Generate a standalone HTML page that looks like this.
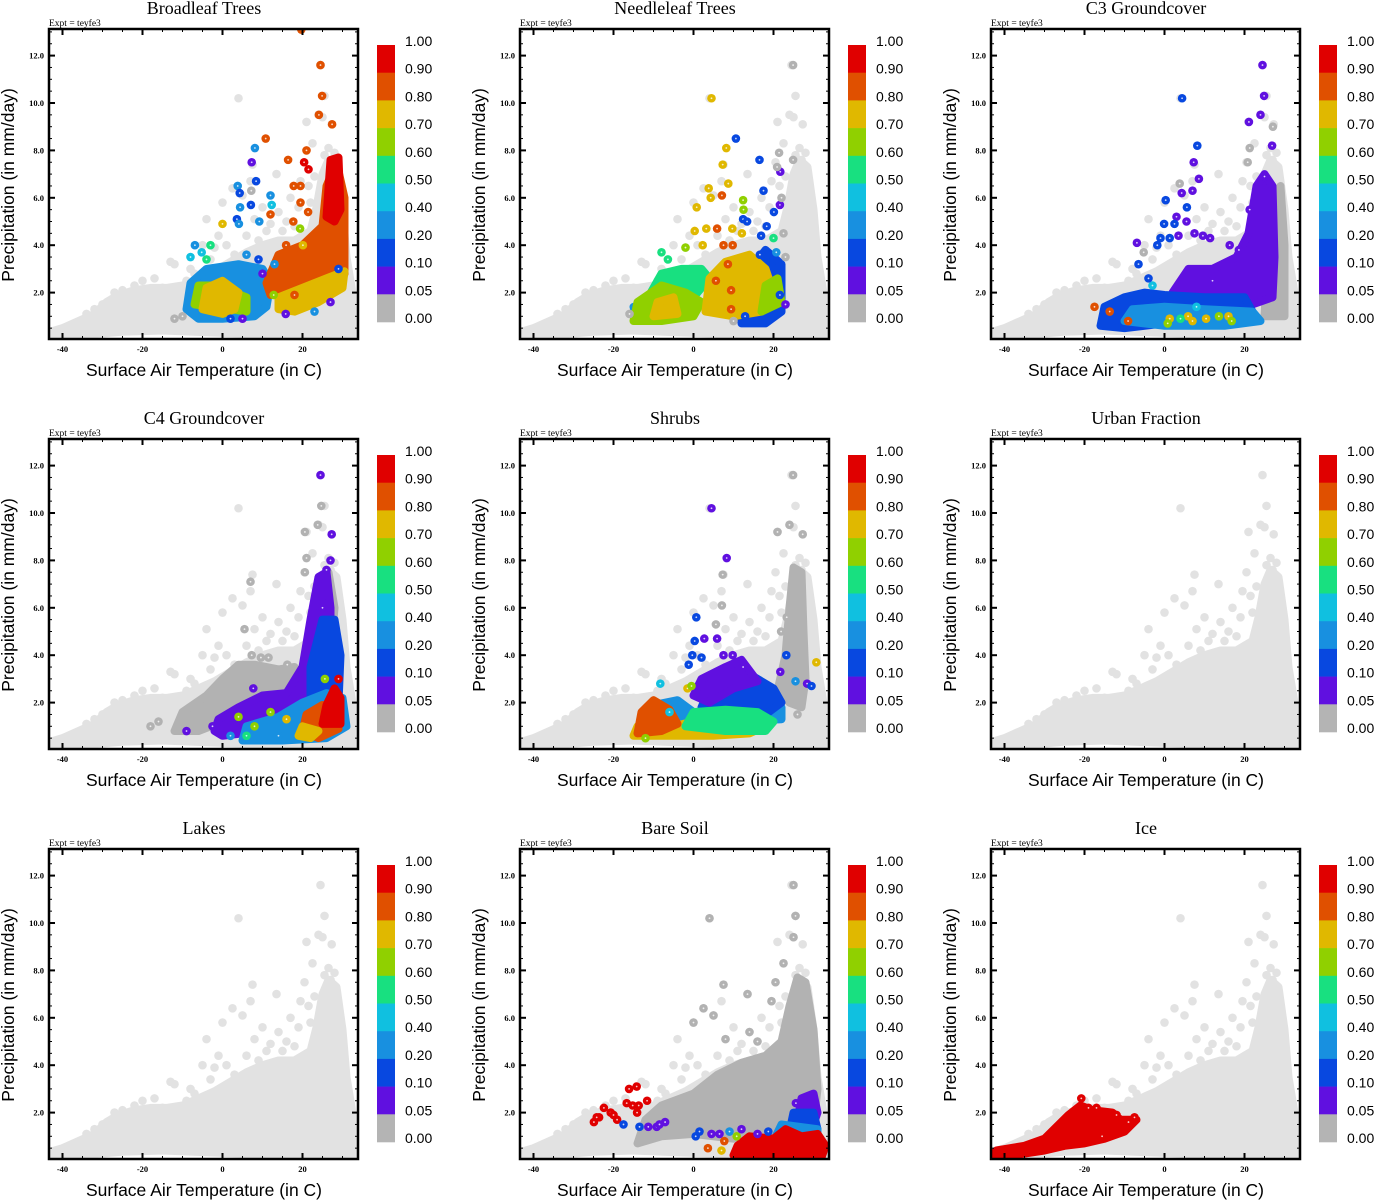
<!DOCTYPE html>
<html><head><meta charset="utf-8"><style>
html,body{margin:0;padding:0;background:#fff;}
#wrap{position:relative;width:1375px;height:1200px;overflow:hidden;}
svg text{font-family:"Liberation Sans",sans-serif;}
.ser{font-family:"Liberation Serif",serif;}
</style></head><body>
<div id="wrap">
<svg id="fig" width="1375" height="1200" viewBox="0 0 1375 1200" xmlns="http://www.w3.org/2000/svg"></svg>
</div>
<script>
// ---------- data ----------
const panelTitles = ["Broadleaf Trees","Needleleaf Trees","C3 Groundcover","C4 Groundcover","Shrubs","Urban Fraction","Lakes","Bare Soil","Ice"];
const xTicks = [-40,-20,0,20];
const xTickLabels = ["-40","-20","0","20"];
const yTicks = [2,4,6,8,10,12];
const yTickLabels = ["2.0","4.0","6.0","8.0","10.0","12.0"];
const cbarLabels = ["1.00","0.90","0.80","0.70","0.60","0.50","0.40","0.20","0.10","0.05","0.00"];
const cbarColors = ["#e00000","#e05000","#e0b800","#90d000","#18e080","#10c0e0","#1890e0","#0848e0","#6010e0","#b4b4b4"];

// shared background cloud (T in C, P in mm/day)
const cloudUpper = [[-44,0.3],[-40,0.5],[-36,0.8],[-32,1.1],[-29,1.6],[-26,1.9],[-22,2.1],[-18,2.2],[-14,2.2],[-10,2.3],[-6,2.6],[-2,2.9],[2,3.3],[6,3.7],[10,4.0],[14,4.2],[18,4.2],[22,4.6],[23.5,5.6],[25,7.0],[26.5,7.6],[28.5,7.3],[30,5.5],[31,3.5],[33,1.5],[34,0.5]];
const cloudLower = [[34,0.1],[20,0.15],[0,0.3],[-15,0.4],[-25,0.35],[-35,0.2],[-44,0.1]];
const cloudPoints = [[4,10.2],[24.5,11.6],[25.5,10.3],[25,9.4],[22.5,8.3],[26.5,8.1],[7.5,7.4],[2.5,6.4],[5,6.1],[20.5,7.5],[13.5,7.0],[25.5,7.8],[27,7.6],[19.5,6.7],[21.5,6.5],[0,5.8],[-4,5.1],[-5,4.0],[-1,4.4],[-2,3.9],[-12,3.2],[-13,3.3],[-9,2.5],[-20,2.5],[8,5.1],[9,4.2],[14,5.4],[16,5.0],[27,5.9],[-30,1.5],[-32,1.3],[-25,2.1],[-15,2.2],[21,9.2],[27.3,9.1],[24,9.5],[11,4.6],[18,4.8],[3,3.6],[-7,2.8],[6,4.4],[10,5.6],[12,4.9],[15,4.6],[19,5.6],[22,5.8],[-3,3.4],[1,4.0],[-8,3.0],[-17,2.6],[-22,2.3],[-27,2.0],[-34,1.1],[7,6.7],[17,6.0],[23,6.9],[28,7.9]];

// Broadleaf Trees
const btRegions = [
 [0.3,[[-9,1.3],[-8,2.4],[-4,3.0],[4,3.2],[10,3.0],[12,2.4],[11,1.4],[8,1.0],[0,0.9],[-6,0.9]]],
 [0.65,[[-7,1.5],[-6,2.3],[-2,2.3],[-3,1.4]]],
 [0.65,[[2,1.3],[3,2.0],[6,1.8],[6,1.2]]],
 [0.75,[[-5,1.3],[-4,2.2],[0,2.5],[4,2.0],[3,1.3],[0,1.1]]],
 [0.85,[[11,2.4],[14,3.6],[20,4.0],[25,4.8],[26,6.5],[28.5,7.5],[30.5,6.0],[30.5,2.8],[26,2.6],[20,2.2],[15,2.0],[12,1.9]]],
 [0.95,[[26,5.2],[27,7.6],[29,7.7],[29.5,5.5],[28,5.0]]],
 [0.75,[[14,1.8],[20,2.2],[26,2.6],[30.5,2.9],[30,2.2],[24,1.6],[18,1.2],[14,1.3]]]
];
const btPoints = [[24.5,11.6,0.85],[24.9,10.3,0.85],[24.1,9.5,0.85],[27.4,9.1,0.85],[10.8,8.5,0.85],[8.1,8.1,0.3],[7.3,7.5,0.07],[16.4,7.6,0.85],[21,8.0,0.85],[20.4,7.5,0.95],[21.5,7.2,0.95],[3.8,6.5,0.3],[4.3,6.2,0.15],[8.4,6.7,0.15],[4.4,5.6,0.3],[7.1,5.7,0.15],[12,6.1,0.3],[12.3,5.7,0.45],[12,5.3,0.85],[3.6,5.1,0.15],[0,4.9,0.75],[4.1,4.9,0.3],[-6.9,4.0,0.3],[-3,4.0,0.55],[-5.2,3.7,0.45],[9.2,5.0,0.3],[17.8,6.5,0.85],[19.5,6.5,0.85],[19.5,5.8,0.85],[21.4,5.4,0.85],[17.7,5.0,0.85],[19.4,4.7,0.65],[20.1,4.0,0.75],[15.9,4.0,0.85],[27,1.6,0.07],[15.8,1.1,0.07],[23,1.2,0.3],[12.8,1.9,0.65],[18,1.9,0.85],[19.7,13.1,0.85],[7.2,6.3,0],[-10,1.0,0],[-12,0.9,0],[-8,3.5,0.45],[-4,3.4,0.55],[6,3.6,0.3],[9,3.4,0.15],[10,2.8,0.07],[5,0.9,0.07],[2,0.9,0.15],[13,3.2,0.3],[29,3.0,0.15]];

// Needleleaf Trees
const ntRegions = [
 [0.15,[[12,0.7],[12,2.5],[18,3.8],[22,3.2],[22,1.2],[18,0.7]]],
 [0.55,[[-12,1.6],[-8,2.8],[-3,3.0],[2,3.0],[4,2.6],[0,1.8],[-8,1.9]]],
 [0.3,[[-14,0.8],[-15,1.4],[-10,1.4],[-6,0.9]]],
 [0.65,[[-15,0.8],[-14,1.6],[-8,2.3],[-2,2.0],[2,1.6],[0,1.0],[-8,0.8]]],
 [0.75,[[-10,1.0],[-9,1.6],[-5,1.8],[-4,1.1]]],
 [0.75,[[3,1.2],[4,2.6],[8,3.3],[14,3.6],[18,3.0],[20,2.0],[17,1.2],[10,1.0]]],
 [0.65,[[17,1.2],[18,2.3],[21,2.6],[22,1.6]]]
];
const ntPoints = [[4.5,10.2,0.75],[10.6,8.5,0.15],[8.2,8.1,0.75],[7.3,7.4,0.75],[16.5,7.6,0.15],[21.7,7.1,0.07],[8.7,6.6,0.75],[3.8,6.4,0.75],[4.3,6.0,0.75],[7.1,6.1,0.85],[0.8,5.6,0.75],[12.4,5.9,0.65],[12.5,5.5,0.65],[20.1,5.4,0.15],[17.5,6.3,0.15],[21.6,5.7,0.07],[12.4,5.1,0.15],[13.4,5.0,0.15],[18.3,4.8,0.15],[5.9,4.7,0.85],[0.3,4.6,0.75],[3.2,4.7,0.75],[9.7,4.7,0.75],[12.1,4.5,0.75],[16.9,4.4,0.15],[20,4.3,0.55],[7.5,4.0,0.85],[9.8,4.0,0.85],[-8,3.7,0.55],[-6.4,3.4,0.55],[-2,3.9,0.65],[2.3,4.0,0.75],[16.6,3.6,0.15],[20.7,3.7,0.3],[9.4,1.3,0.85],[8.6,3.2,0.85],[5.6,2.5,0.85],[9.4,2.1,0.85],[12.9,1.0,0.15],[10,0.8,0],[21.6,1.9,0.15],[24.9,11.6,0],[21.4,7.9,0],[20.9,7.3,0],[24.9,7.6,0],[22,6.0,0],[23,3.5,0],[22.5,4.5,0],[-16,1.1,0],[23,1.5,0.07]];

// C3 Groundcover
const c3Regions = [
 [0,[[25,1],[26,4],[27.5,6],[29,6.5],[30,4],[30,1]]],
 [0.07,[[2,2.0],[6,3.0],[12,3.0],[18,3.5],[21,4.5],[23,6.5],[25,7.0],[27,6.5],[27.5,3.5],[27,1.8],[22,1.5],[15,1.8],[8,1.8]]],
 [0.15,[[-16,0.6],[-15,1.4],[-10,1.8],[-5,2.0],[0,1.9],[10,1.8],[20,1.8],[22,1.2],[20,0.8],[10,0.7],[0,0.7],[-10,0.5]]],
 [0.3,[[-10,0.8],[-8,1.3],[0,1.4],[10,1.3],[22,1.2],[24,0.8],[15,0.6],[0,0.6]]]
];
const c3Points = [[24.5,11.6,0.07],[24.9,10.3,0.07],[24,9.5,0.07],[21.1,9.2,0.07],[4.4,10.2,0.15],[8.2,8.2,0.15],[7.3,7.5,0.07],[8.6,6.8,0.07],[4.3,6.2,0.07],[7,6.3,0.07],[0.3,5.9,0.15],[5.6,5.6,0.15],[3,5.2,0.07],[-0.1,4.9,0.15],[2.5,4.9,0.15],[5.5,5.0,0.07],[-1,4.3,0.15],[1.3,4.3,0.15],[-1.8,4.0,0.15],[3.5,4.4,0.07],[7.5,4.5,0.07],[9.6,4.4,0.07],[11.4,4.3,0.07],[-6.9,4.1,0.07],[-6.5,3.2,0.15],[16.3,4.0,0.07],[18.6,3.8,0.07],[21.3,5.5,0.07],[26.9,8.2,0.07],[25,6.9,0.07],[-17.5,1.4,0.85],[-13.7,1.2,0.85],[-9.1,0.8,0.85],[1.3,0.9,0.75],[0.8,0.7,0.65],[5.9,1.0,0.75],[7,0.8,0.75],[10.4,0.9,0.75],[13.6,1.0,0.65],[16,1.0,0.75],[16.8,0.8,0.65],[4,0.9,0.55],[27.1,9.0,0],[21.3,8.1,0],[20.8,7.5,0],[3.8,6.6,0],[-5.2,3.7,0],[-3,2.3,0.45],[8,1.4,0.45],[12,2.5,0.07],[-4,2.6,0.15]];

// C4 Groundcover
const c4Regions = [
 [0,[[-12,0.8],[-10,1.6],[-4,2.3],[0,3.0],[4,3.6],[8,3.6],[14,3.4],[18,3.5],[18,2.2],[10,1.6],[0,1.2],[-6,0.8]]],
 [0,[[23,4.5],[24.5,7],[26.5,7.5],[28,6],[27,4]]],
 [0.07,[[-2,0.8],[-1,1.3],[4,1.8],[10,2.3],[16,2.4],[20,3.5],[22,5.5],[24,7.3],[26,7.5],[27,6],[27,4],[25,2.4],[20,1.5],[10,0.8],[0,0.6]]],
 [0.15,[[22,1.5],[22,3.5],[25,5.5],[28,5.5],[29.5,4],[29,2.0],[26,1.2]]],
 [0.3,[[5,0.4],[6,1.0],[14,1.4],[20,2.0],[26,2.4],[30,2.2],[31,1.0],[26,0.5],[15,0.4]]],
 [0.85,[[20,0.8],[21,1.5],[25,1.9],[28,1.8],[29,0.9],[24,0.5]]],
 [0.95,[[25,1.1],[26,1.9],[28,2.6],[29.5,2.2],[29.5,1.1]]],
 [0.75,[[19,0.6],[20,1.0],[24,0.8],[22,0.5]]]
];
const c4Points = [[24.5,11.6,0.07],[27.3,9.1,0.07],[-9,0.8,0.07],[-2.5,1.0,0.07],[7.7,2.6,0.07],[25.6,3.0,0.65],[29,3.0,0.95],[27,8.0,0.07],[26,7.6,0.07],[25,6.0,0.07],[4,1.4,0.65],[8,1.0,0.65],[12,1.6,0.65],[6,0.6,0.55],[2,0.6,0.3],[14,0.6,0.3],[16,1.3,0.75],[24.7,10.3,0],[23.8,9.5,0],[20.6,9.2,0],[21,8.1,0],[20.6,7.5,0],[7,7.1,0],[5.5,5.1,0],[7.3,4.0,0],[9.6,3.9,0],[11.5,3.9,0],[16.2,3.6,0],[-16,1.2,0],[-18,1.0,0]];

// Shrubs
const shRegions = [
 [0,[[21,2.5],[23,4],[24,6],[25,7.7],[27,7.5],[27.5,5],[28,3],[27,1.8],[24,2]]],
 [0.3,[[-10,1.9],[-4,2.1],[0,1.6],[10,1.7],[22,1.8],[22,1.3],[10,1.2],[0,1.2]]],
 [0.15,[[2,1.8],[4,2.6],[8,3.0],[14,3.2],[20,2.6],[22,2.0],[18,1.5],[8,1.6]]],
 [0.07,[[0,2.3],[2,3.0],[8,3.5],[12,3.8],[16,2.9],[10,2.6],[4,2.0]]],
 [0.75,[[-15,0.6],[-14,1.0],[-5,1.0],[5,1.4],[10,1.4],[18,1.0],[14,0.7],[5,0.6],[-5,0.6]]],
 [0.55,[[-2,1.0],[0,1.6],[8,1.7],[16,1.6],[20,1.2],[18,0.8],[8,0.8]]],
 [0.85,[[-14,0.7],[-13,1.6],[-10,2.1],[-6,1.7],[-4,1.1],[-8,0.8]]]
];
const shPoints = [[4.5,10.2,0.07],[8.3,8.1,0.07],[0.7,5.6,0.15],[0.3,4.6,0.15],[2.7,4.7,0.07],[5.9,4.7,0.07],[-0.3,4.0,0.15],[2.0,3.9,0.15],[-1.2,3.6,0.15],[7.5,4.0,0.07],[9.8,4.0,0.07],[12.4,3.5,0.07],[23.2,4.0,0.15],[21.7,3.3,0.07],[30.7,3.7,0.75],[25.5,2.9,0.3],[28.4,2.8,0.07],[29.5,2.7,0.15],[-8.3,2.8,0.45],[-1.5,2.6,0.75],[-0.5,2.7,0.65],[-12,0.5,0.65],[-6,1.6,0.45],[24.9,11.6,0],[24,9.5,0],[21,9.2,0],[27.3,9.1,0],[7.3,7.4,0],[7.1,6.1,0],[5.6,5.3,0],[21.9,5.0,0],[23.3,5.6,0],[26,1.5,0]];

// Urban Fraction / Lakes: background only
const urRegions = [];
const urPoints = [];
const lkRegions = [];
const lkPoints = [];

// Bare Soil
const bsRegions = [
 [0,[[-14,0.7],[-12,1.7],[-8,2.3],[0,2.8],[6,3.6],[12,4.1],[18,4.4],[22,5.0],[24,6.5],[26,7.7],[28,7.5],[30,5.5],[31,3],[30,1.5],[20,1.0],[10,0.9],[0,1.1],[-8,1.0]]],
 [0.07,[[26,1.7],[27,2.6],[30,2.8],[31,2.0],[30,1.5]]],
 [0.15,[[24,1.2],[25,2.0],[30,2.0],[31,1.3]]],
 [0.3,[[20,0.8],[22,1.5],[31,1.3],[31,0.9]]],
 [0.95,[[10,0.2],[11,0.6],[14,1.0],[20,0.9],[23,1.3],[27,1.0],[31,1.1],[33,0.6],[32,0.1],[20,0.0],[12,0.05]]]
];
const bsPoints = [[-16.1,3.0,0.95],[-14.2,3.1,0.95],[-24.9,1.6,0.95],[-23.6,1.8,0.95],[-22.4,2.2,0.95],[-20.7,2.0,0.95],[-20,1.9,0.95],[-19.1,1.7,0.95],[-16.7,2.4,0.95],[-15.2,2.3,0.95],[-13.7,2.3,0.95],[-14.1,2.0,0.95],[-11.6,2.5,0.95],[-24.2,1.8,0.95],[-17.5,1.5,0.15],[-13.5,1.4,0.15],[-11.3,1.4,0.07],[-9.2,1.4,0.07],[-7.1,1.6,0.07],[-8.5,1.5,0.07],[0.55,1.0,0.15],[1.5,1.2,0.15],[3.6,0.5,0.85],[7,0.4,0.75],[7.7,0.8,0.85],[10.8,1.0,0.65],[4.5,1.1,0.07],[6.5,1.1,0.07],[18.7,1.2,0.15],[25.6,2.4,0.07],[9,1.2,0.3],[12,1.3,0.07],[16,1.1,0.07],[4,10.2,0],[25,11.6,0],[25.5,10.3,0],[25,9.4,0],[22.5,8.3,0],[7.5,7.4,0],[2.5,6.4,0],[5,6.1,0],[20.5,7.5,0],[13.5,7.0,0],[19.5,6.7,0],[8,5.1,0],[14,5.4,0],[16,5.0,0],[0,5.8,0]];

// Ice
const icRegions = [
 [0.95,[[-44,0.1],[-42,0.4],[-35,0.6],[-30,0.9],[-27,1.4],[-24,1.9],[-21,2.3],[-18,2.1],[-13,2.0],[-11,1.7],[-7,1.7],[-10,1.2],[-15,0.9],[-20,0.7],[-25,0.6],[-30,0.4],[-38,0.2]]]
];
const icPoints = [[-20.8,2.6,0.95],[-7.5,1.8,0.95],[-15.6,1.0,0.95],[-19,2.2,0.95],[-17,2.2,0.95],[-12,1.9,0.95],[-9,1.6,0.95],[-44,0.1,0.95]];

const panelRegions = [btRegions,ntRegions,c3Regions,c4Regions,shRegions,urRegions,lkRegions,bsRegions,icRegions];
const panelPoints = [btPoints,ntPoints,c3Points,c4Points,shPoints,urPoints,lkPoints,bsPoints,icPoints];

// ---------- rendering ----------
const NS = "http://www.w3.org/2000/svg";
const svg = document.getElementById("fig");
const LIGHT = "#e2e2e2";
function mk(tag, attrs, parent){
  const e = document.createElementNS(NS, tag);
  for (const k in attrs) e.setAttribute(k, attrs[k]);
  (parent||svg).appendChild(e);
  return e;
}
function colorFor(f){
  if (f < 0) return LIGHT;
  if (f < 0.05) return "#b2b2b2";
  if (f < 0.1) return cbarColors[8];
  if (f < 0.2) return cbarColors[7];
  if (f < 0.4) return cbarColors[6];
  if (f < 0.5) return cbarColors[5];
  if (f < 0.6) return cbarColors[4];
  if (f < 0.7) return cbarColors[3];
  if (f < 0.8) return cbarColors[2];
  if (f < 0.9) return cbarColors[1];
  return cbarColors[0];
}
const slugs = ["broadleaf-trees","needleleaf-trees","c3-groundcover","c4-groundcover","shrubs","urban-fraction","lakes","bare-soil","ice"];

panelTitles.forEach((title, idx) => {
  const c = idx % 3, r = Math.floor(idx / 3);
  const ox = c * 471, oy = r * 410;
  const xs = T => ox + 48.5 + (T + 43.5) * 4;
  const ys = P => oy + 340 - P * 23.7;
  const g = mk("g", {});
  
  

  const t = mk("text", {x: ox + 204, y: oy + 14, "text-anchor": "middle", "font-size": "18", class: "ser"}, g);
  t.textContent = title;
  
  

  const ex = mk("text", {x: ox + 49, y: oy + 26, "font-size": "9.5", class: "ser"}, g);
  ex.textContent = "Expt = teyfe3";
  
  

  const clipId = "clip" + idx;
  const cp = mk("clipPath", {id: clipId}, g);
  mk("rect", {x: ox + 49, y: oy + 29, width: 309, height: 310}, cp);
  const plot = mk("g", {"clip-path": "url(#" + clipId + ")"}, g);
  
  

  const cpts = cloudUpper.concat(cloudLower).map(p => xs(p[0]).toFixed(1) + "," + ys(p[1]).toFixed(1)).join(" ");
  const cloud = mk("polygon", {points: cpts, fill: LIGHT, stroke: LIGHT, "stroke-width": 8, "stroke-linejoin": "round"}, plot);
  
  
  cloudPoints.forEach(p => {
    const m = mk("circle", {cx: xs(p[0]), cy: ys(p[1]), r: 4.3, fill: LIGHT}, plot);
    
    
  });

  panelRegions[idx].forEach(reg => {
    const col = colorFor(reg[0]);
    const pts = reg[1].map(p => xs(p[0]).toFixed(1) + "," + ys(p[1]).toFixed(1)).join(" ");
    const pg = mk("polygon", {points: pts, fill: col, stroke: col, "stroke-width": 8, "stroke-linejoin": "round"}, plot);
    
    
  });
  panelPoints[idx].forEach(p => {
    const m = mk("circle", {cx: xs(p[0]), cy: ys(p[1]), r: 4.3, fill: colorFor(p[2])}, plot);
    
    
    mk("circle", {cx: xs(p[0]), cy: ys(p[1]), r: 0.9, fill: "#fff", opacity: 0.8}, plot);
  });

  const fr = mk("rect", {x: ox + 49, y: oy + 29, width: 309, height: 310, fill: "none", stroke: "#000", "stroke-width": 2.5}, g);
  
  

  for (let k = 1; k <= 26; k++) {
    const P = k * 0.5, y = ys(P);
    if (y < oy + 30) continue;
    const major = (k % 4 === 0);
    const L = major ? 6 : 3;
    mk("line", {x1: ox + 49, x2: ox + 49 + L, y1: y, y2: y, stroke: "#000", "stroke-width": major ? 2 : 1}, g);
    mk("line", {x1: ox + 358, x2: ox + 358 - L, y1: y, y2: y, stroke: "#000", "stroke-width": major ? 2 : 1}, g);
  }
  yTicks.forEach((v, i) => {
    const tl = mk("text", {x: ox + 44, y: ys(v) + 3, "text-anchor": "end", "font-size": "8.5", "font-weight": "bold", class: "ser"}, g);
    tl.textContent = yTickLabels[i];
    
    
  });
  for (let T = -40; T <= 30; T += 5) {
    const x = xs(T);
    const major = (T % 20 === 0);
    const L = major ? 6 : 3;
    mk("line", {x1: x, x2: x, y1: oy + 339, y2: oy + 339 - L, stroke: "#000", "stroke-width": major ? 2 : 1}, g);
    mk("line", {x1: x, x2: x, y1: oy + 29, y2: oy + 29 + L, stroke: "#000", "stroke-width": major ? 2 : 1}, g);
  }
  xTicks.forEach((v, i) => {
    const tl = mk("text", {x: xs(v), y: oy + 352, "text-anchor": "middle", "font-size": "8.5", "font-weight": "bold", class: "ser"}, g);
    tl.textContent = xTickLabels[i];
    
    
  });

  const xt = mk("text", {x: ox + 204, y: oy + 376, "text-anchor": "middle", "font-size": "17.5"}, g);
  xt.textContent = "Surface Air Temperature (in C)";
  
  
  const yt = mk("text", {x: 0, y: 0, "text-anchor": "middle", "font-size": "17.5", transform: "translate(" + (ox + 14) + "," + (oy + 185) + ") rotate(-90)"}, g);
  yt.textContent = "Precipitation (in mm/day)";
  
  

  const cb = mk("g", {}, g);
  
  
  const bh = 277 / cbarColors.length;
  cbarColors.forEach((col, i) => {
    const b = mk("rect", {x: ox + 377, y: oy + 45 + i * bh, width: 18, height: bh + 0.3, fill: col}, cb);
    
    
  });
  cbarLabels.forEach((lab, i) => {
    const tl = mk("text", {x: ox + 405, y: oy + 46 + i * bh, "font-size": "14"}, cb);
    tl.textContent = lab;
    
    
  });
});
</script>
</body></html>
